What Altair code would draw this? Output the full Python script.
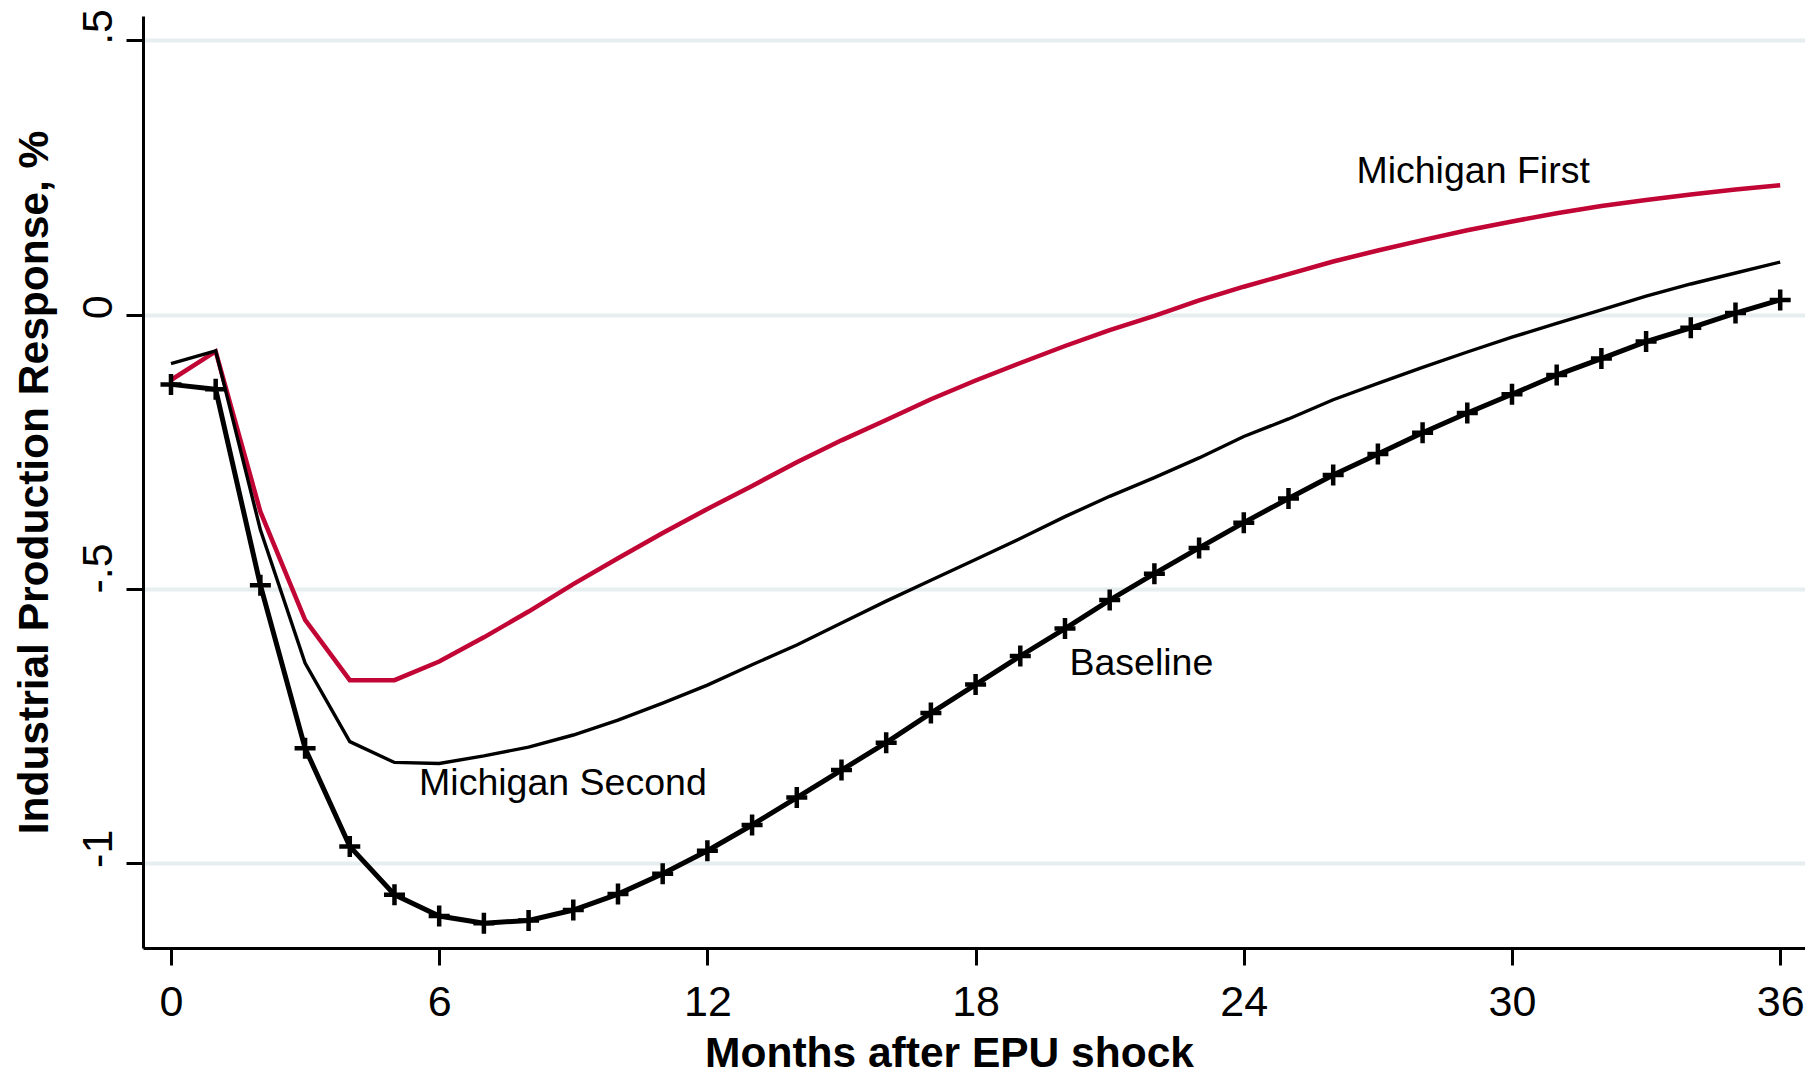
import altair as alt
import pandas as pd

months = list(range(37))

baseline = [-0.127, -0.136, -0.493, -0.790, -0.969, -1.057, -1.096, -1.109, -1.104, -1.085,
            -1.056, -1.019, -0.977, -0.930, -0.880, -0.830, -0.780, -0.726, -0.674, -0.622,
            -0.572, -0.520, -0.472, -0.425, -0.379, -0.335, -0.292, -0.254, -0.215, -0.179,
            -0.145, -0.110, -0.080, -0.049, -0.024, 0.003, 0.027]

mich_second = [-0.089, -0.066, -0.392, -0.635, -0.778, -0.816, -0.818, -0.804, -0.788, -0.766,
               -0.739, -0.708, -0.675, -0.638, -0.602, -0.562, -0.522, -0.484, -0.446, -0.408,
               -0.368, -0.331, -0.297, -0.261, -0.222, -0.190, -0.155, -0.125, -0.096, -0.068,
               -0.041, -0.016, 0.009, 0.034, 0.056, 0.076, 0.096]

mich_first = [-0.119, -0.067, -0.359, -0.556, -0.666, -0.666, -0.632, -0.588, -0.541, -0.491,
              -0.444, -0.398, -0.354, -0.312, -0.269, -0.229, -0.192, -0.154, -0.120, -0.088,
              -0.057, -0.028, -0.002, 0.026, 0.051, 0.074, 0.097, 0.117, 0.136, 0.154,
              0.170, 0.185, 0.198, 0.209, 0.219, 0.228, 0.236]

x_ticks = [0, 6, 12, 18, 24, 30, 36]
y_ticks = [-1, -0.5, 0, 0.5]

label_text = ["Michigan First", "Michigan Second", "Baseline"]
label_x = [26.52, 5.55, 20.10]
label_y = [0.240, -0.875, -0.657]

df_base = pd.DataFrame({"month": months, "value": baseline})
df_second = pd.DataFrame({"month": months, "value": mich_second})
df_first = pd.DataFrame({"month": months, "value": mich_first})
df_labels = pd.DataFrame({"month": label_x, "value": label_y, "text": label_text})

FONT = "Liberation Sans"

x_enc = alt.X(
    "month:Q",
    scale=alt.Scale(domain=[-0.626, 36.555], nice=False, zero=False),
    axis=alt.Axis(
        values=x_ticks,
        title="Months after EPU shock",
        grid=False,
        labelFontSize=43,
        labelPadding=16,
        labelFlush=False,
        labelOverlap=False,
        titleFontSize=42.5,
        titleFontWeight="bold",
        titleX=806,
        titleY=118,
        titleAlign="center",
        titleBaseline="alphabetic",
    ),
)

y_enc = alt.Y(
    "value:Q",
    scale=alt.Scale(domain=[-1.1542, 0.5444], nice=False, zero=False),
    axis=alt.Axis(
        values=y_ticks,
        labelExpr="datum.value == 0.5 ? '.5' : datum.value == -0.5 ? '-.5' : datum.value == -1 ? '-1' : '0'",
        title="Industrial Production Response, %",
        grid=True,
        gridColor="#e6eeef",
        gridWidth=4,
        labelFontSize=43,
        labelAngle=270,
        labelAlign="left",
        labelBaseline="alphabetic",
        labelPadding=15,
        labelOffset=4,
        labelFlush=False,
        labelOverlap=False,
        titleFontSize=42.5,
        titleFontWeight="bold",
        titleAngle=270,
        titleX=-96,
        titleY=466,
        titleAlign="center",
        titleBaseline="alphabetic",
    ),
)

first_line = alt.Chart(df_first).mark_line(color="#c10534", strokeWidth=4.5).encode(x=x_enc, y=y_enc)
second_line = alt.Chart(df_second).mark_line(color="black", strokeWidth=3.4).encode(x=x_enc, y=y_enc)
base_line = alt.Chart(df_base).mark_line(color="black", strokeWidth=5).encode(x=x_enc, y=y_enc)
base_pts = alt.Chart(df_base).mark_point(
    shape="M-1,0L1,0M0,-1L0,1", size=441, filled=False, stroke="black", strokeWidth=4.5, opacity=1
).encode(x=x_enc, y=y_enc)
labels = alt.Chart(df_labels).mark_text(
    align="left", baseline="alphabetic", fontSize=37.5, font=FONT, color="black"
).encode(x=x_enc, y=y_enc, text="text:N")

chart = (
    alt.layer(first_line, second_line, base_line, base_pts, labels)
    .properties(
        width=1662,
        height=932,
        autosize=alt.AutoSizeParams(type="none"),
        padding={"left": 135, "top": 8, "right": 0, "bottom": 127},
        background="white",
    )
    .configure_view(stroke=None)
    .configure_axis(
        domainColor="black",
        domainWidth=3,
        tickColor="black",
        tickWidth=3,
        tickSize=17,
        labelColor="black",
        titleColor="black",
        labelFont=FONT,
        titleFont=FONT,
    )
)

chart.save("out.html", embed_options={"renderer": "svg", "actions": False})
